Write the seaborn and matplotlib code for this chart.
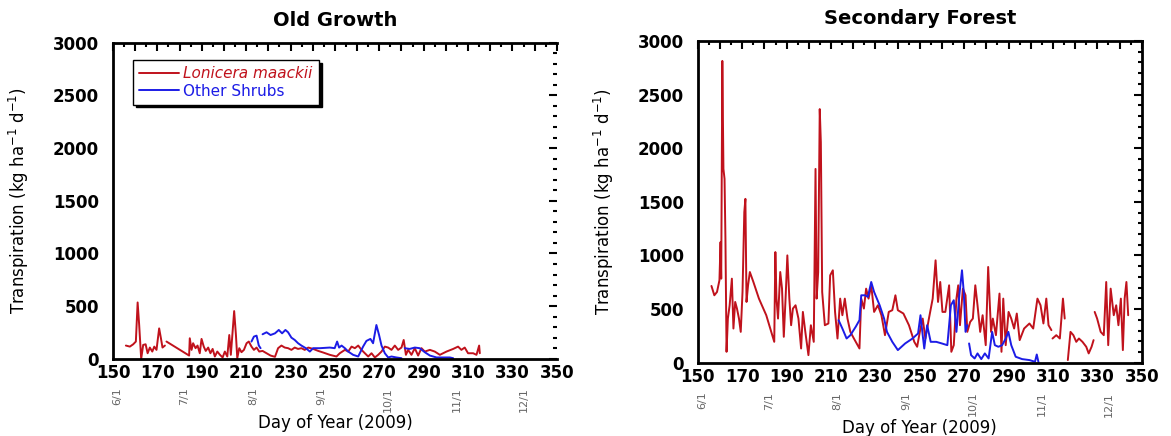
import numpy as np
import pandas as pd
import matplotlib
matplotlib.use("Agg")
import matplotlib.pyplot as plt
from matplotlib.ticker import MultipleLocator, FuncFormatter
from matplotlib.lines import Line2D
import matplotlib.transforms as mtransforms
import seaborn as sns

sns.set_style("white")
plt.rcParams['font.family'] = ['DejaVu Sans']
plt.rcParams['text.color'] = 'black'
plt.rcParams['axes.labelcolor'] = 'black'
plt.rcParams['xtick.color'] = 'black'
plt.rcParams['ytick.color'] = 'black'

# Datos (dia del anio, transpiracion kg ha-1 d-1)
# NaN = hueco en la serie

og_lm_day = [155.8, 157.6, 159.1, 160.3, 161.1, 161.8, 162.7, 163.6, 164.7, 165.6, 166.6, 167.7,
             168.6, 169.6, 170.8, 171.6, 172.3, 173.4, np.nan, 174.1, 184.3, 184.6, 185.4, 186.1,
             187.2, 188.1, 189.1, 189.9, 190.9, 191.8, 192.9, 193.9, 194.9, 195.9, 197.0, 198.2,
             199.4, 200.4, 201.5, 202.4, 203.1, 203.9, 204.6, 205.4, 206.0, 206.9, 207.9, 209.0,
             210.2, 211.2, 212.4, 213.5, 214.7, 215.9, 217.4, 219.2, 221.0, 223.0, 224.4, 225.9,
             227.4, 228.9, 230.4, 231.9, 233.4, 234.9, 236.4, 238.0, 240.2, 242.5, 244.7, 247.7,
             250.7, 252.2, 254.5, 256.0, 257.5, 259.0, 260.5, 262.0, 263.5, 265.0, 266.5, 268.0,
             269.5, 271.0, 272.5, 274.0, 275.5, 277.0, 278.5, 280.0, 281.0, 282.0, 283.0, 284.5,
             286.0, 287.5, 289.0, 290.5, 292.8, 295.0, 297.3, 300.3, 303.3, 305.5, 307.0, 308.5,
             310.0, 312.3, 313.8, 315.0, 315.3]
og_lm_val = [126, 116, 138, 164, 535, 320, 0, 132, 138, 53, 107, 69,
             116, 85, 289, 195, 107, 126, np.nan, 164, 31, 195, 85, 148,
             101, 126, 53, 189, 116, 75, 107, 53, 94, 22, 69, 38,
             13, 69, 22, 226, 38, 258, 453, 226, 6, 101, 63, 85,
             148, 164, 116, 85, 107, 69, 75, 53, 31, 19, 101, 126,
             107, 101, 85, 107, 94, 101, 85, 107, 94, 75, 60, 38,
             22, 53, 85, 69, 116, 101, 126, 85, 53, 22, 53, 13,
             38, 69, 116, 107, 85, 126, 85, 107, 179, 38, 85, 38,
             101, 31, 101, 69, 85, 69, 38, 69, 94, 116, 85, 107,
             53, 53, 38, 126, 53]

og_os_day = [212.4, 213.5, 214.7, 215.7, 216.5, np.nan, 217.4, 219.2, 221.0, 223.0, 224.7, 226.2,
             227.7, 228.9, 230.4, 231.9, 233.4, 234.9, 236.9, 238.7, 240.2, 243.2, 247.7, 249.9,
             251.0, 251.9, 253.0, 254.5, 256.0, 258.2, 260.5, 262.7, 264.2, 266.0, 267.2, 268.7,
             269.9, 271.0, 272.5, 274.0, 275.5, 277.7, 280.0, np.nan, 281.5, 283.7, 286.0, 288.2,
             290.5, 292.8, 295.8, 298.8, 301.8, 303.3]
og_os_val = [164, 211, 220, 126, 101, np.nan, 233, 252, 226, 242, 274, 242,
             274, 252, 201, 179, 148, 126, 101, 69, 101, 101, 107, 101,
             164, 107, 126, 101, 69, 38, 22, 116, 170, 189, 148, 321,
             226, 126, 53, 13, 22, 13, 6, np.nan, 101, 94, 107, 101,
             63, 31, 13, 13, 13, 6]

sf_lm_day = [156.1, 157.4, 158.6, 159.7, 160.2, 160.5, 161.0, 161.5, 162.0, 162.4, 162.9, 163.5,
             164.3, 165.3, 166.0, 166.8, 167.6, 168.5, 169.3, 170.1, 170.9, 171.4, 171.9, 172.6,
             173.4, 175.0, 177.5, 180.8, 184.4, 184.9, 185.4, 186.1, 187.1, 187.9, 188.7, 189.5,
             190.3, 191.2, 192.0, 192.8, 194.0, 195.3, 196.5, 197.3, 198.4, 199.8, 200.9, 202.2,
             203.0, 203.5, 204.2, 204.9, 205.4, 206.0, 207.2, 208.8, 209.6, 210.8, 211.8, 212.9,
             214.1, 215.1, 216.2, 217.4, 218.7, 220.3, 222.8, 223.6, 224.8, 225.8, 226.9, 228.1,
             229.4, 231.1, 232.7, 234.3, 236.0, 237.6, 239.0, 240.1, 242.6, 245.1, 247.5, 248.8,
             250.0, 251.3, 252.5, 254.1, 255.8, 257.1, 258.2, 259.2, 260.2, 261.5, 263.2, 264.2,
             265.3, 266.5, 267.3, 268.1, 269.4, 270.6, 271.4, 272.7, 273.9, 275.0, 276.0, 277.2,
             278.3, 279.7, 280.8, 282.1, 282.9, 284.3, 285.9, 286.8, 287.6, 288.7, 290.0, 291.2,
             292.5, 293.7, 295.0, 297.0, 299.4, 301.1, 303.0, 304.4, 305.7, 307.0, 308.0, 309.3,
             np.nan, 309.8, 311.5, 313.1, 314.5, 315.3, np.nan, 316.7, 317.9, 319.2, 320.5, 321.7,
             323.3, 325.0, 326.1, 327.4, 328.3, np.nan, 328.8, 329.9, 331.5, 332.9, 334.0, 334.9,
             336.0, 337.4, 338.5, 339.5, 340.6, 341.5, 342.3, 343.1, 343.9]
sf_lm_val = [716, 629, 660, 769, 1125, 784, 2814, 1807, 1714, 1156, 102, 412,
             536, 784, 319, 567, 505, 412, 288, 660, 1404, 1528, 567, 722,
             846, 753, 598, 443, 195, 1032, 598, 412, 846, 691, 242, 598,
             1001, 598, 350, 505, 536, 412, 133, 474, 288, 71, 350, 195,
             1807, 598, 846, 2365, 2055, 660, 350, 366, 815, 862, 474, 226,
             598, 443, 598, 412, 288, 226, 133, 598, 505, 691, 598, 722,
             474, 536, 443, 257, 474, 490, 629, 490, 459, 350, 195, 149,
             288, 412, 226, 412, 598, 955, 567, 753, 474, 474, 722, 102,
             164, 598, 722, 350, 691, 629, 288, 381, 412, 722, 536, 288,
             443, 164, 893, 288, 412, 257, 645, 102, 598, 164, 474, 412,
             319, 459, 211, 319, 366, 319, 598, 536, 366, 598, 350, 304,
             np.nan, 226, 257, 226, 598, 412, np.nan, 25, 288, 257, 195, 226,
             195, 149, 87, 149, 211, np.nan, 474, 412, 288, 257, 753, 164,
             691, 443, 536, 350, 598, 118, 598, 753, 443]

sf_os_day = [213.4, 215.1, 217.0, 218.7, 221.1, 222.8, 223.6, 225.3, 226.6, 228.1, 229.4, 231.9,
             233.9, 235.2, 237.6, 240.1, 243.4, 246.7, 249.2, 250.3, 251.3, 252.0, 253.3, 254.9,
             257.4, 259.9, 262.4, 264.0, 265.3, 266.5, 267.8, 269.0, 269.8, 270.6, 271.4, np.nan,
             272.2, 273.1, 274.7, 276.0, 277.7, 279.3, 281.0, 282.6, 283.8, 285.4, 287.1, 288.7,
             289.9, 291.2, 293.2, 296.1, 299.4, 301.9, 302.7, 303.5]
sf_os_val = [397, 319, 226, 257, 335, 397, 629, 629, 614, 753, 660, 536,
             412, 288, 195, 118, 180, 226, 273, 443, 257, 133, 350, 195,
             195, 180, 164, 536, 583, 288, 629, 862, 660, 288, 350, np.nan,
             180, 71, 40, 87, 34, 87, 40, 288, 164, 149, 164, 226,
             288, 164, 56, 34, 25, 9, 77, 3]

month_days = [152, 182, 213, 244, 274, 305, 335]
month_labels = ['6/1', '7/1', '8/1', '9/1', '10/1', '11/1', '12/1']

red = '#c0121c'
blue = '#1c1ce6'


def to_df(days, vals):
    # separa en segmentos donde hay NaN para que la linea quede cortada
    d = np.array(days, dtype=float)
    v = np.array(vals, dtype=float)
    seg = np.cumsum(np.isnan(d))
    df = pd.DataFrame({'day': d, 'val': v, 'seg': seg})
    return df.dropna()


def style_axes(ax, title, right_spine):
    ax.set_xlim(150, 350)
    ax.set_ylim(0, 3000)
    ax.xaxis.set_major_locator(MultipleLocator(10))
    ax.xaxis.set_minor_locator(MultipleLocator(5))
    ax.xaxis.set_major_formatter(FuncFormatter(lambda x, p: f"{int(round(x))}" if int(round(x)) % 20 == 10 else ""))
    ax.yaxis.set_major_locator(MultipleLocator(500))
    ax.yaxis.set_minor_locator(MultipleLocator(100))
    ax.tick_params(which='both', direction='in', top=True, right=True, width=1.5)
    ax.tick_params(which='major', length=6, labelsize=12)
    ax.tick_params(axis='x', which='major', pad=4)
    ax.tick_params(axis='y', which='major', pad=10)
    ax.tick_params(which='minor', length=3)
    for lab in ax.get_xticklabels() + ax.get_yticklabels():
        lab.set_fontweight('bold')
    for s in ax.spines.values():
        s.set_linewidth(2)
        s.set_color('black')
    ax.spines['right'].set_visible(right_spine)
    ax.set_title(title, fontsize=14, fontweight='bold', pad=12)
    ax.set_xlabel('Day of Year (2009)', fontsize=12)
    ax.xaxis.set_label_coords(0.5, -0.175)
    ax.set_ylabel(r'Transpiration (kg ha$^{-1}$ d$^{-1}$)', fontsize=12)
    ax.yaxis.set_label_coords(-0.185, 0.5)
    trans = mtransforms.blended_transform_factory(ax.transData, ax.transAxes)
    for d, m in zip(month_days, month_labels):
        ax.text(d, -0.09, m, transform=trans, rotation=90, ha='center', va='top',
                fontsize=8, color='#666666')


fig = plt.figure(figsize=(11.71, 4.36), dpi=100)
ax1 = fig.add_axes([0.0965, 0.177, 0.379, 0.725])
ax2 = fig.add_axes([0.596, 0.168, 0.379, 0.738])

sns.lineplot(data=to_df(og_lm_day, og_lm_val), x='day', y='val', units='seg', estimator=None,
             color=red, linewidth=1.4, ax=ax1, legend=False)
sns.lineplot(data=to_df(og_os_day, og_os_val), x='day', y='val', units='seg', estimator=None,
             color=blue, linewidth=1.4, ax=ax1, legend=False)
sns.lineplot(data=to_df(sf_lm_day, sf_lm_val), x='day', y='val', units='seg', estimator=None,
             color=red, linewidth=1.4, ax=ax2, legend=False)
sns.lineplot(data=to_df(sf_os_day, sf_os_val), x='day', y='val', units='seg', estimator=None,
             color=blue, linewidth=1.4, ax=ax2, legend=False)

style_axes(ax1, 'Old Growth', right_spine=False)
style_axes(ax2, 'Secondary Forest', right_spine=True)

handles = [Line2D([], [], color=red, linewidth=1.4), Line2D([], [], color=blue, linewidth=1.4)]
leg = ax1.legend(handles, ['Lonicera maackii', 'Other Shrubs'], loc='upper left',
                 bbox_to_anchor=(0.045, 0.945), fontsize=11, frameon=True,
                 fancybox=False, shadow={'color': 'black', 'alpha': 1}, borderpad=0.4,
                 handlelength=2.6, handletextpad=0.3, labelspacing=0.15, borderaxespad=0)
leg.get_frame().set_edgecolor('black')
leg.get_frame().set_linewidth(1)
leg.get_texts()[0].set_color(red)
leg.get_texts()[0].set_fontstyle('italic')
leg.get_texts()[1].set_color(blue)

plt.savefig('out.png', dpi=100)
